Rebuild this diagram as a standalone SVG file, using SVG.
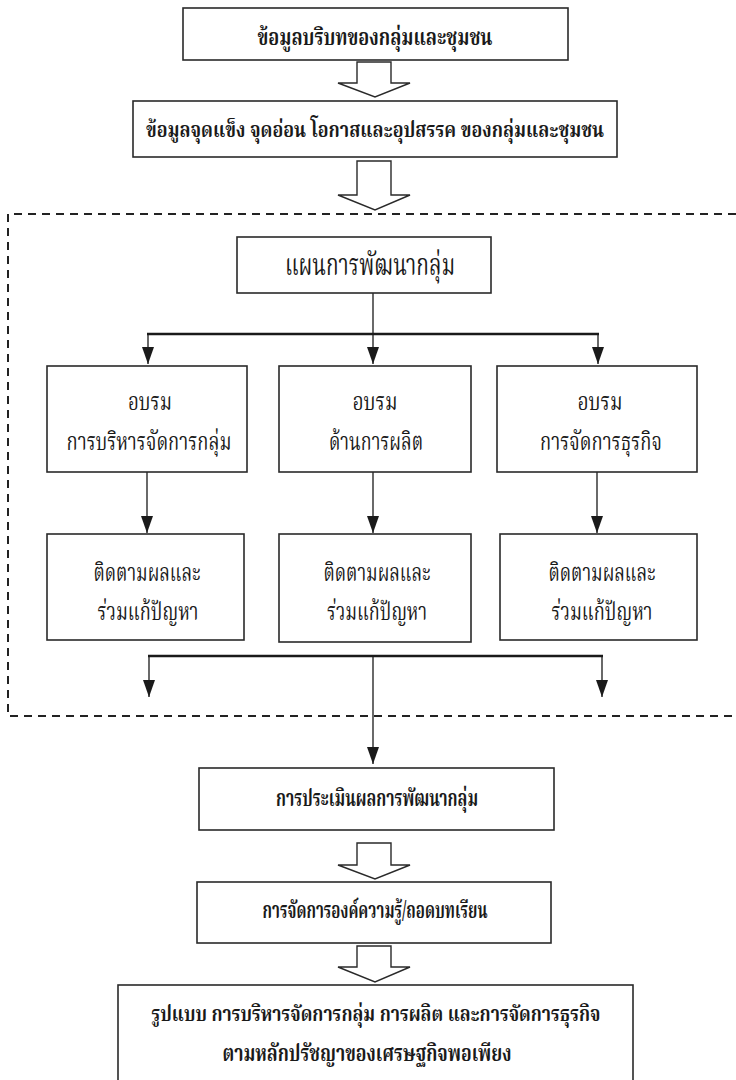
<svg xmlns="http://www.w3.org/2000/svg" width="736" height="1080" viewBox="0 0 736 1080">
<style>
.box{fill:#fff;stroke:#2a2a2a;stroke-width:1.6}
.blk{fill:#fff;stroke:#2a2a2a;stroke-width:1.4;stroke-linejoin:miter}
.t{font-family:"Noto Serif Thai","Noto Sans Thai","Loma","Garuda","Noto Sans",serif;fill:#1a1a1a;text-anchor:middle}
.b{font-weight:bold;font-size:23px}
.r{font-size:25px}
.ln{stroke:#1a1a1a;stroke-width:1.3;fill:none}
.hl{stroke:#1a1a1a;stroke-width:2.6;fill:none}
.dash{stroke:#222;stroke-width:2;fill:none;stroke-dasharray:8 6}
</style>
<defs>
<marker id="ah" viewBox="0 0 17 12" refX="17" refY="6" markerWidth="17" markerHeight="12" markerUnits="userSpaceOnUse" orient="auto">
<path d="M0,0 L17,6 L0,12 Z" fill="#1a1a1a"/>
</marker>
</defs>
<rect width="736" height="1080" fill="#fff"/>
<path class="dash" d="M736,214 H8 V716 H736"/>
<g id="connectors">
<polygon class="blk" points="357,62 391,62 391,83 410,83 375,97 338,83 357,83"/>
<polygon class="blk" points="357,161 391,161 391,195 410,195 375,210 338,195 357,195"/>
<polygon class="blk" points="357,843 391,843 391,865 410,865 375,879 338,865 357,865"/>
<polygon class="blk" points="357,946 391,946 391,967 410,967 375,982 338,967 357,967"/>
<line class="ln" x1="373" y1="293" x2="373" y2="364" marker-end="url(#ah)"/>
<line class="hl" x1="147" y1="334" x2="599" y2="334"/>
<line class="ln" x1="148" y1="334" x2="148" y2="364" marker-end="url(#ah)"/>
<line class="ln" x1="598" y1="334" x2="598" y2="364" marker-end="url(#ah)"/>
<line class="ln" x1="147" y1="472" x2="147" y2="533" marker-end="url(#ah)"/>
<line class="ln" x1="373" y1="472" x2="373" y2="533" marker-end="url(#ah)"/>
<line class="ln" x1="597" y1="472" x2="597" y2="533" marker-end="url(#ah)"/>
<line class="hl" x1="148" y1="656" x2="603" y2="656"/>
<line class="ln" x1="149" y1="656" x2="149" y2="697" marker-end="url(#ah)"/>
<line class="ln" x1="602" y1="656" x2="602" y2="697" marker-end="url(#ah)"/>
<line class="ln" x1="373" y1="656" x2="373" y2="764" marker-end="url(#ah)"/>
</g>
<g id="n1"><rect class="box" x="183" y="8" width="385" height="52"/>
<text class="t b" x="375" y="45" textLength="235" lengthAdjust="spacingAndGlyphs">ข้อมูลบริบทของกลุ่มและชุมชน</text></g>
<g id="n2"><rect class="box" x="133" y="101" width="484" height="56"/>
<text class="t b" style="font-size:22px" x="375" y="137" textLength="458" lengthAdjust="spacingAndGlyphs">ข้อมูลจุดแข็ง จุดอ่อน โอกาสและอุปสรรค ของกลุ่มและชุมชน</text></g>
<g id="n3"><rect class="box" x="237" y="237" width="254" height="56"/>
<text class="t" style="font-size:30px" x="370" y="275" textLength="170" lengthAdjust="spacingAndGlyphs">แผนการพัฒนากลุ่ม</text></g>
<g id="n4"><rect class="box" x="47" y="366" width="200" height="106"/>
<text class="t r" x="150" y="410" textLength="44" lengthAdjust="spacingAndGlyphs">อบรม</text>
<text class="t r" x="149" y="450" textLength="165" lengthAdjust="spacingAndGlyphs">การบริหารจัดการกลุ่ม</text></g>
<g id="n5"><rect class="box" x="279" y="366" width="192" height="106"/>
<text class="t r" x="375" y="410" textLength="45" lengthAdjust="spacingAndGlyphs">อบรม</text>
<text class="t r" x="376" y="450" textLength="94" lengthAdjust="spacingAndGlyphs">ด้านการผลิต</text></g>
<g id="n6"><rect class="box" x="497" y="366" width="200" height="106"/>
<text class="t r" x="600" y="410" textLength="45" lengthAdjust="spacingAndGlyphs">อบรม</text>
<text class="t r" x="601" y="450" textLength="122" lengthAdjust="spacingAndGlyphs">การจัดการธุรกิจ</text></g>
<g id="n7"><rect class="box" x="47" y="534" width="197" height="106"/>
<text class="t r" x="147" y="581" textLength="107" lengthAdjust="spacingAndGlyphs">ติดตามผลและ</text>
<text class="t r" x="148" y="620" textLength="101" lengthAdjust="spacingAndGlyphs">ร่วมแก้ปัญหา</text></g>
<g id="n8"><rect class="box" x="279" y="534" width="192" height="108"/>
<text class="t r" x="377" y="581" textLength="107" lengthAdjust="spacingAndGlyphs">ติดตามผลและ</text>
<text class="t r" x="377" y="620" textLength="100" lengthAdjust="spacingAndGlyphs">ร่วมแก้ปัญหา</text></g>
<g id="n9"><rect class="box" x="500" y="534" width="197" height="106"/>
<text class="t r" x="602" y="581" textLength="107" lengthAdjust="spacingAndGlyphs">ติดตามผลและ</text>
<text class="t r" x="602" y="620" textLength="101" lengthAdjust="spacingAndGlyphs">ร่วมแก้ปัญหา</text></g>
<g id="n10"><rect class="box" x="199" y="768" width="355" height="62"/>
<text class="t b" x="377" y="806" textLength="202" lengthAdjust="spacingAndGlyphs">การประเมินผลการพัฒนากลุ่ม</text></g>
<g id="n11"><rect class="box" x="197" y="882" width="354" height="61"/>
<text class="t b" x="375" y="918" textLength="225" lengthAdjust="spacingAndGlyphs">การจัดการองค์ความรู้/ถอดบทเรียน</text></g>
<g id="n12"><rect class="box" x="118" y="985" width="515" height="96"/>
<text class="t b" style="font-size:21px" x="376" y="1021" textLength="449" lengthAdjust="spacingAndGlyphs">รูปแบบ การบริหารจัดการกลุ่ม การผลิต และการจัดการธุรกิจ</text>
<text class="t b" x="367" y="1061" textLength="289" lengthAdjust="spacingAndGlyphs">ตามหลักปรัชญาของเศรษฐกิจพอเพียง</text></g>
</svg>
